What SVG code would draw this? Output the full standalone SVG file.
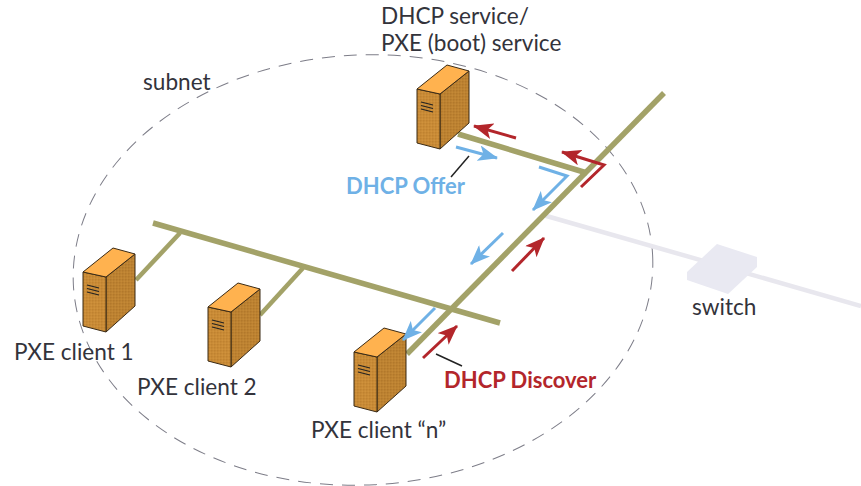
<svg xmlns="http://www.w3.org/2000/svg" xmlns:xlink="http://www.w3.org/1999/xlink" width="861" height="486" viewBox="0 0 861 486">
<style>
text{font-family:"Lato","Liberation Sans",sans-serif;font-size:22.6px;fill:#33333b}
.b{font-weight:700;font-size:22px}
.bus{stroke:#a3a268;fill:none;stroke-width:5.5}
.stub{stroke:#a3a268;fill:none;stroke-width:4.5}
.lan{stroke:#e8e7ee;fill:none;stroke-width:4.5}
.red{stroke:#b3262b;stroke-width:3;fill:none}
.blue{stroke:#6fb1e6;stroke-width:3;fill:none}
.lead{stroke:#222;stroke-width:1.5;fill:none}
.top{fill:#ffb24f}.front{fill:url(#tex)}.side{fill:url(#tex2)}
.edge{stroke:#3a2a15;stroke-width:1;stroke-linejoin:round}
</style>
<defs>
<pattern id="tex" width="3" height="3" patternUnits="userSpaceOnUse"><rect width="3" height="3" fill="#c98b36"/><rect width="1.500" height="1.500" fill="#bf8230"/><rect x="1.500" y="1.500" width="1.500" height="1.500" fill="#d0923c"/></pattern>
<pattern id="tex2" width="3" height="3" patternUnits="userSpaceOnUse"><rect width="3" height="3" fill="#bd8231"/><rect width="1.500" height="1.500" fill="#b2782b"/><rect x="1.500" y="1.500" width="1.500" height="1.500" fill="#c48936"/></pattern>
<marker id="ar" viewBox="0 0 20 16" refX="19" refY="8" markerWidth="20" markerHeight="16" markerUnits="userSpaceOnUse" orient="auto"><path d="M0 0L20 8L0 16L5 8Z" fill="#b3262b"/></marker>
<marker id="ab" viewBox="0 0 20 16" refX="19" refY="8" markerWidth="20" markerHeight="16" markerUnits="userSpaceOnUse" orient="auto"><path d="M0 0L20 8L0 16L5 8Z" fill="#6fb1e6"/></marker>
<g id="srv">
<path class="side edge" d="M23 4L52 -19V33L23 59Z"/>
<path class="front edge" d="M0 -1L23 4V59L0 53Z"/>
<path class="top edge" d="M0 -1L30 -25L52 -19L23 4Z"/>
<path d="M4 12L16 15M4 15.500L16 18.500M4 19L16 22" stroke="#222" stroke-width="1.200" fill="none"/>
</g>
</defs>
<rect width="861" height="486" fill="#fff"/>
<ellipse id="subnet" cx="363" cy="270" rx="290" ry="215" transform="rotate(-3 363 270)" fill="none" stroke="#7d7d88" stroke-width="1" stroke-dasharray="13 9"/>
<g id="connectors">
<path class="lan" d="M543 215L861 306"/>
<path class="bus" d="M664 93L407 354"/>
<path class="bus" d="M458 134L587 173"/>
<path class="bus" d="M153 223L500 323"/>
<path class="stub" d="M136 280L180 233"/>
<path class="stub" d="M260 315L303 268"/>
<path class="red" marker-end="url(#ar)" d="M516 138L474 126"/>
<path class="red" marker-end="url(#ar)" d="M581 187L604 165L562 152"/>
<path class="red" marker-end="url(#ar)" d="M512 271L544 238"/>
<path class="red" marker-end="url(#ar)" d="M423 358L457 326"/>
<path class="blue" marker-end="url(#ab)" d="M456 147L497 158"/>
<path class="blue" marker-end="url(#ab)" d="M539 167L567 176L533 210"/>
<path class="blue" marker-end="url(#ab)" d="M503 233L471 264"/>
<path class="lead" d="M469 156L451 177"/>
<path class="lead" d="M436 354L462 366"/>
</g>
<g id="dhcp-server"><use xlink:href="#srv" href="#srv" x="417" y="90"/><text x="381" y="24">DHCP service/</text><text x="381" y="50.500">PXE (boot) service</text></g>
<g id="client-1"><use xlink:href="#srv" href="#srv" x="83" y="273"/><text x="14" y="360">PXE client 1</text></g>
<g id="client-2"><use xlink:href="#srv" href="#srv" x="208" y="308"/><text x="137" y="395">PXE client 2</text></g>
<g id="client-n"><use xlink:href="#srv" href="#srv" x="354" y="353"/><text x="311" y="438">PXE client “n”</text></g>
<path class="blue" marker-end="url(#ab)" d="M435 308L403 340"/>
<g id="switch">
<path d="M687 272L717 244L757 257V267L728 294L687 280Z" fill="#e9e9f2"/>
<text x="692" y="315">switch</text>
</g>
<text x="143" y="90">subnet</text>
<text class="b" x="346" y="194" style="fill:#6fb1e6">DHCP Offer</text>
<text class="b" x="444" y="388" style="fill:#b3262b">DHCP Discover</text>
</svg>
